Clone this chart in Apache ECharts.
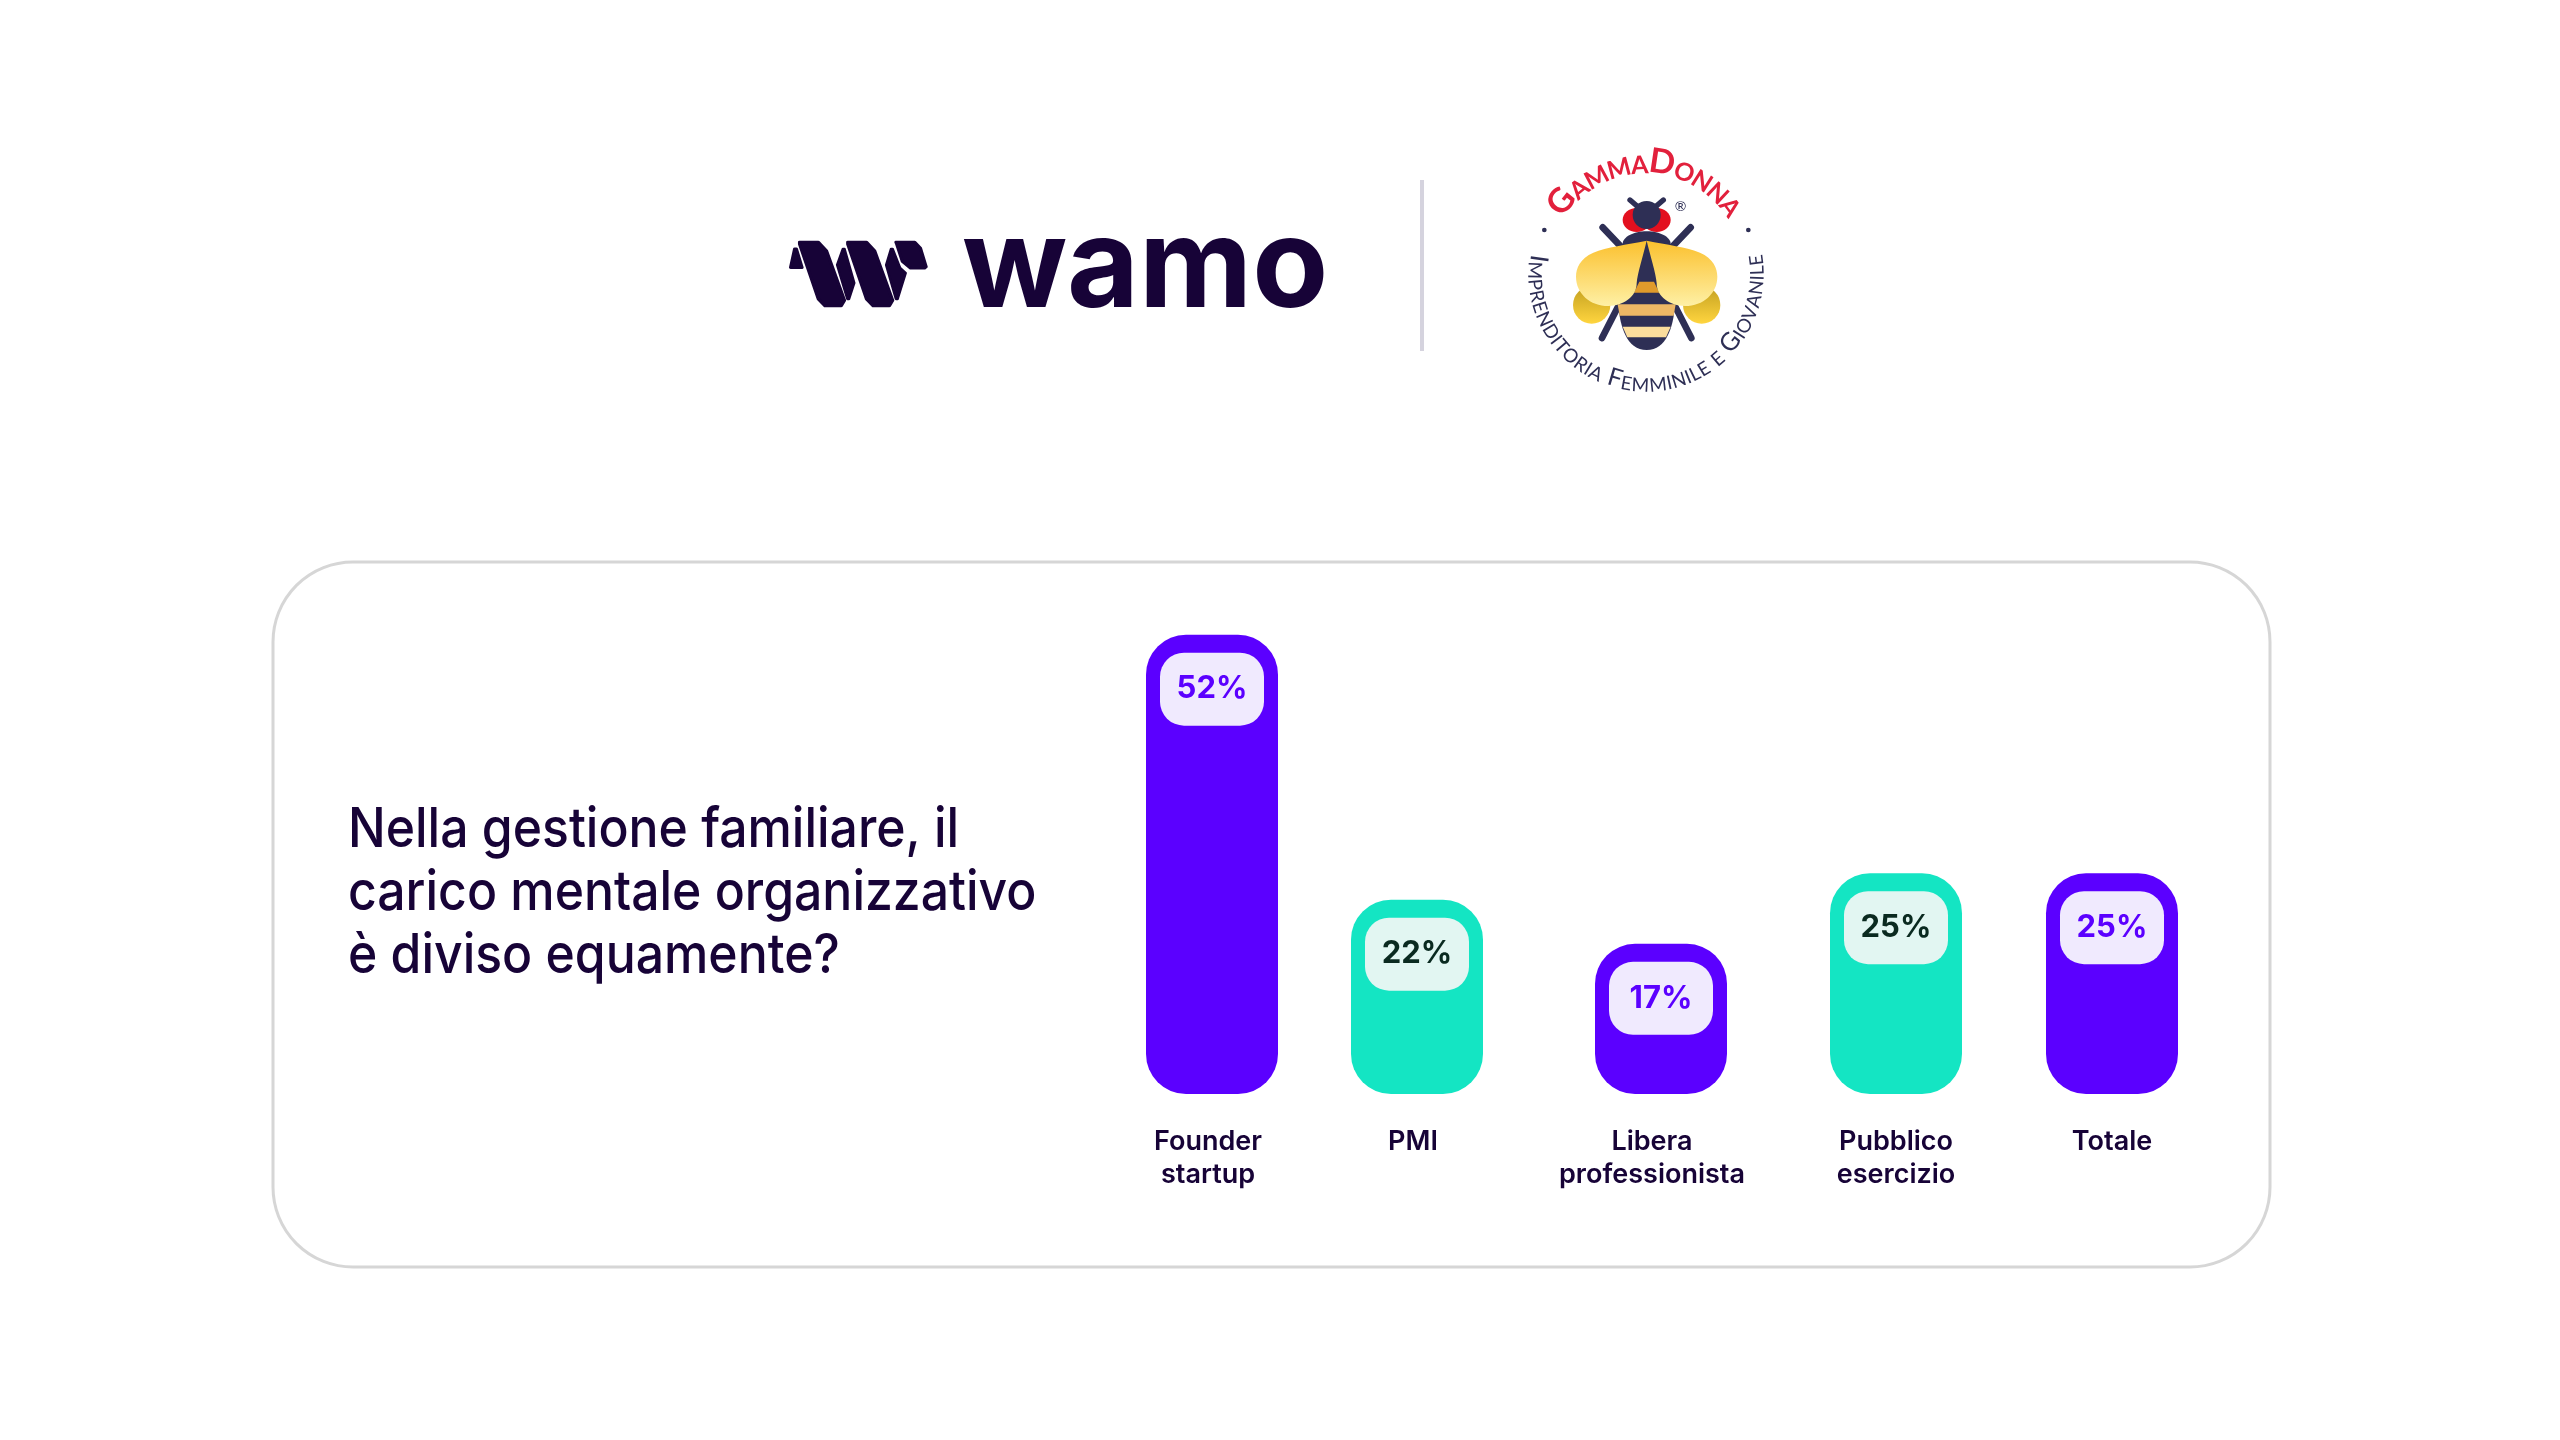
<!DOCTYPE html>
<html>
<head>
<meta charset="utf-8">
<title>Carico mentale</title>
<script src="https://cdn.jsdelivr.net/npm/echarts@6/dist/echarts.min.js"></script>
<style>
html, body { margin: 0; padding: 0; background: #fff; }
#main { width: 2560px; height: 1440px; }
</style>
</head>
<body>
<div id="main"></div>
<script>
// dati
var titleLines = ['Nella gestione familiare, il', 'carico mentale organizzativo', 'è diviso equamente?'];
var categories = ['Founder\nstartup', 'PMI', 'Libera\nprofessionista', 'Pubblico\nesercizio', 'Totale'];
var values = [52, 22, 17, 25, 25];
var barKinds = ['viola', 'verde', 'viola', 'verde', 'viola'];

// layout: le colonne non sono equidistanti nel riferimento, una griglia per colonna
var barCentres = [1212, 1417, 1661, 1896, 2112];
var labelShift = [4, 4, 9, 0, 0];
var barWidth = 132, gridBottom = 1094, gridHeight = 530, axisMax = 60;

var INK = '#170337', PURPLE = '#5B00FF', TEAL = '#14E5C3', NAVY = '#2E2F55', RED = '#E2203C';
var FONT = 'Inter';
var palette = {
    viola: { bar: PURPLE, pill: '#F0EAFE', text: PURPLE },
    verde: { bar: TEAL, pill: '#E2F6F2', text: '#0A2A20' }
};

var grids = [], xAxes = [], yAxes = [], series = [];
categories.forEach(function (name, i) {
    var look = palette[barKinds[i]];
    grids.push({ left: barCentres[i] - barWidth / 2, width: barWidth, top: gridBottom - gridHeight, height: gridHeight });
    xAxes.push({
        type: 'category', gridIndex: i, data: [name],
        axisLine: { show: false }, axisTick: { show: false },
        axisLabel: {
            interval: 0, margin: 31, color: INK, fontFamily: FONT, fontSize: 27, fontWeight: 600,
            lineHeight: 33, padding: [0, labelShift[i] * 2, 0, 0]
        }
    });
    yAxes.push({ type: 'value', gridIndex: i, min: 0, max: axisMax, show: false });
    series.push({
        type: 'bar', xAxisIndex: i, yAxisIndex: i, data: [values[i]],
        barWidth: '100%', silent: true,
        itemStyle: { color: look.bar, borderRadius: 40 },
        label: {
            show: true, position: 'insideTop', distance: 18, formatter: '{c}%',
            width: 104, height: 73, lineHeight: 73, align: 'center', verticalAlign: 'top',
            backgroundColor: look.pill, borderRadius: 24,
            color: look.text, fontFamily: FONT, fontSize: 31, fontWeight: 700
        }
    });
});

// testo su arco del logo, lettera per lettera
var measureCtx = document.createElement('canvas').getContext('2d');
function arcText(chars, cy, radius, fromDeg, toDeg, color, weight, bottom) {
    var widths = chars.map(function (c) {
        measureCtx.font = weight + ' ' + c.size + 'px Lato';
        return measureCtx.measureText(c.t).width;
    });
    var total = widths.reduce(function (a, b) { return a + b; }, 0);
    var used = 0, out = [];
    chars.forEach(function (c, i) {
        var f = (used + widths[i] / 2) / total;
        used += widths[i];
        var deg = fromDeg + (toDeg - fromDeg) * f;
        var rad = deg * Math.PI / 180;
        out.push({
            type: 'text', x: 1646 + radius * Math.sin(rad), y: cy - radius * Math.cos(rad),
            rotation: -(bottom ? deg - 180 : deg) * Math.PI / 180,
            style: {
                text: c.t, fill: color, font: weight + ' ' + c.size + 'px Lato',
                textAlign: 'center', textVerticalAlign: 'bottom'
            }
        });
    });
    return out;
}
function smallCaps(str, big, small) {
    return str.split('').map(function (c) {
        var up = c === c.toUpperCase();
        return { t: c.toUpperCase(), size: up ? big : small };
    });
}

function poly(points, fill, round) {
    return {
        type: 'polygon', shape: { points: points },
        style: { fill: fill, stroke: fill, lineWidth: round, lineJoin: 'round' }
    };
}
function line(a, b, width) {
    return {
        type: 'line', shape: { x1: a[0], y1: a[1], x2: b[0], y2: b[1] },
        style: { stroke: NAVY, lineWidth: width, lineCap: 'round' }
    };
}
function vGrad(a, b) {
    return new echarts.graphic.LinearGradient(0, 0, 0, 1, [{ offset: 0, color: a }, { offset: 1, color: b }]);
}

// forme curve dell'ape
echarts.graphic.registerShape('beeWingL', echarts.graphic.extendPath('M500 332 C440 345 380 350 340 368 C300 385 288 415 288 440 C288 490 330 528 385 528 C430 528 470 500 470 460 C472 430 490 375 500 332 Z', {}));
echarts.graphic.registerShape('beeWingR', echarts.graphic.extendPath('M500 332 C560 345 620 350 660 368 C700 385 712 415 712 440 C712 490 670 528 615 528 C570 528 530 500 530 460 C528 430 510 375 500 332 Z', {}));
echarts.graphic.registerShape('beeBody', echarts.graphic.extendPath('M500 330 L415 525 C420 590 440 660 500 660 C560 660 580 590 585 525 Z', {}));

var wamoMark = {
    type: 'group', x: 740, y: 130, scaleX: 1 / 2.45, scaleY: 1 / 2.98,
    children: [
        poly([[124, 410], [134, 354], [138, 354], [152, 410]], INK, 8),
        poly([[146, 334], [192, 334], [212, 360], [256, 508], [248, 524], [208, 524], [192, 504], [146, 340]], INK, 8),
        poly([[238, 402], [252, 354], [256, 354], [280, 456], [267, 504], [263, 504]], INK, 6),
        poly([[264, 334], [310, 334], [330, 360], [374, 508], [366, 524], [326, 524], [310, 504], [264, 340]], INK, 8),
        poly([[358, 402], [370, 354], [374, 354], [392, 410], [406, 426], [386, 504], [382, 504]], INK, 6),
        poly([[382, 334], [428, 334], [442, 352], [456, 408], [452, 412], [418, 412], [398, 392], [384, 340]], INK, 8)
    ]
};

var bee = {
    type: 'group', x: 1480, y: 130, scaleX: 1 / 3, scaleY: 1 / 3,
    children: [
        line([450, 210], [478, 234], 16), line([550, 210], [522, 234], 16),
        { type: 'ellipse', shape: { cx: 470, cy: 270, rx: 42, ry: 36 }, style: { fill: '#E3101F' } },
        { type: 'ellipse', shape: { cx: 530, cy: 270, rx: 42, ry: 36 }, style: { fill: '#E3101F' } },
        { type: 'circle', shape: { cx: 500, cy: 255, r: 42 }, style: { fill: NAVY } },
        line([368, 292], [425, 352], 20), line([632, 292], [575, 352], 20),
        line([366, 624], [414, 530], 20), line([634, 624], [586, 530], 20),
        { type: 'ellipse', shape: { cx: 500, cy: 342, rx: 72, ry: 38 }, style: { fill: NAVY } },
        { type: 'circle', shape: { cx: 335, cy: 525, r: 56 }, style: { fill: vGrad('#C3A020', '#FFD53F') } },
        { type: 'circle', shape: { cx: 665, cy: 525, r: 56 }, style: { fill: vGrad('#C3A020', '#FFD53F') } },
        { type: 'beeBody', style: { fill: NAVY } },
        poly([[478, 455], [522, 455], [538, 488], [462, 488]], '#E09A2B', 0),
        poly([[413, 523], [587, 523], [581, 557], [419, 557]], '#EDB765', 0),
        poly([[428, 590], [572, 590], [558, 622], [442, 622]], '#FBDD9C', 0),
        { type: 'beeWingL', style: { fill: vGrad('#FBC02D', '#FEF0A5') } },
        { type: 'beeWingR', style: { fill: vGrad('#FBC02D', '#FEF0A5') } },
        { type: 'circle', shape: { cx: 193, cy: 300, r: 7 }, style: { fill: NAVY } },
        { type: 'circle', shape: { cx: 805, cy: 300, r: 7 }, style: { fill: NAVY } },
        {
            type: 'text', x: 602, y: 229,
            style: { text: '®', fill: NAVY, font: '42px Lato', textAlign: 'center', textVerticalAlign: 'middle' }
        }
    ]
};

var graphics = [
    // cornice
    {
        type: 'rect', shape: { x: 273, y: 562, width: 1997, height: 705, r: 80 },
        style: { fill: '#fff', stroke: '#D6D6D6', lineWidth: 3 }, z: -1
    },
    // separatore
    { type: 'line', shape: { x1: 1422, y1: 180, x2: 1422, y2: 351 }, style: { stroke: '#D5D3DE', lineWidth: 4 } },
    wamoMark,
    {
        type: 'text', x: 962, y: 332,
        style: { text: 'wamo', fill: INK, font: '700 124px Inter', textAlign: 'left', textVerticalAlign: 'bottom' }
    },
    bee
];
titleLines.forEach(function (t, i) {
    graphics.push({
        type: 'text', x: 348, y: 830 + i * 63, scaleX: 0.907,
        style: { text: t, fill: INK, font: '500 55px Inter', textAlign: 'left', textVerticalAlign: 'middle' }
    });
});
graphics = graphics
    .concat(arcText(smallCaps('GammaDonna', 34, 25), 270, 92, -58, 58, RED, 700, false))
    .concat(arcText(smallCaps('Imprenditoria Femminile e Giovanile', 25, 19), 274, 121, 280, 80, NAVY, 400, true));

var myChart = echarts.init(document.getElementById('main'));
myChart.setOption({
    backgroundColor: '#fff',
    animation: false,
    graphic: { elements: graphics },
    grid: grids,
    xAxis: xAxes,
    yAxis: yAxes,
    series: series
});
</script>
</body>
</html>
